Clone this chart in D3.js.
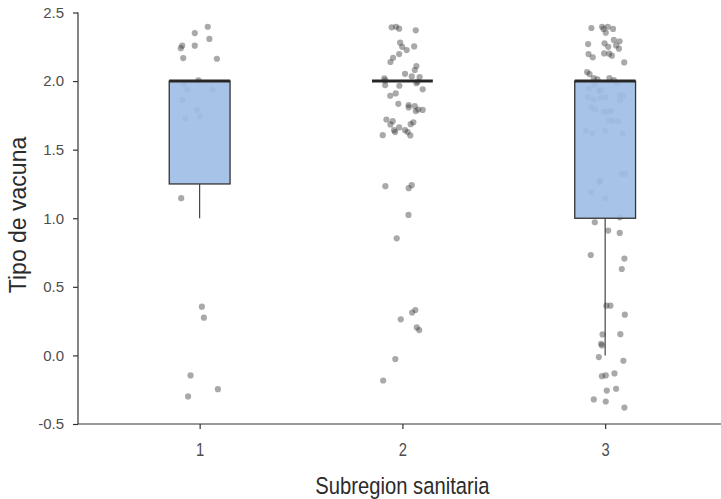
<!DOCTYPE html>
<html>
<head>
<meta charset="utf-8">
<script src="https://cdn.jsdelivr.net/npm/d3@7"></script>
<style>
  body { margin: 0; background: #fff; }
  svg text { font-family: "Liberation Sans", Arial, sans-serif; }
</style>
</head>
<body>
<div id="chart"></div>
<script>
var categories = [1, 2, 3];
var yTicks = [-0.5, 0.0, 0.5, 1.0, 1.5, 2.0, 2.5];

// jittered points: offset from category centre (in category units) and y value
var jitter1 = [0.040, -0.024, 0.048, -0.086, -0.093, -0.024, -0.081, 0.085, -0.006, -0.078, -0.060,
    0.065, -0.085, -0.012, 0.001, -0.070, -0.091, 0.011, 0.021, -0.045, 0.090, -0.057];
var values1 = [2.396, 2.35, 2.307, 2.258, 2.24, 2.258, 2.168, 2.163, 2.005, 1.978, 1.937,
    1.937, 1.864, 1.79, 1.742, 1.73, 1.146, 0.355, 0.275, -0.146, -0.246, -0.299];

var jitter2 = [-0.053, -0.031, -0.016, 0.066, -0.011, -0.001, 0.021, 0.058, -0.016, -0.046, -0.059,
    0.069, 0.061, 0.013, 0.046, 0.085, -0.089, -0.085, -0.085, -0.015, 0.069, 0.074, 0.100, -0.033,
    -0.060, -0.020, 0.031, 0.031, 0.061, 0.066, 0.078, 0.100, -0.079, -0.048, -0.059, -0.041, -0.036,
    -0.016, 0.013, 0.026, 0.041, 0.054, 0.039, -0.097, -0.084, 0.031, 0.046, 0.030, -0.028, 0.064,
    0.048, -0.008, 0.071, 0.083, -0.035, -0.095];
var values2 = [2.392, 2.396, 2.382, 2.37, 2.28, 2.25, 2.226, 2.253, 2.197, 2.17, 2.139,
    2.11, 2.08, 2.053, 2.034, 2.029, 2.02, 2.005, 1.971, 1.966, 1.985, 1.995, 1.94, 1.91,
    1.893, 1.834, 1.825, 1.808, 1.818, 1.781, 1.793, 1.79, 1.72, 1.708, 1.684, 1.642, 1.628,
    1.662, 1.642, 1.628, 1.686, 1.70, 1.604, 1.606, 1.234, 1.219, 1.241, 1.024, 0.854, 0.331,
    0.312, 0.263, 0.204, 0.185, -0.027, -0.183];

var jitter3 = [-0.068, -0.015, -0.008, 0.013, 0.039, 0.003, 0.043, 0.071, -0.084, -0.003, 0.015,
    0.054, 0.068, -0.082, -0.061, -0.005, 0.020, 0.033, 0.094, -0.089, -0.077, -0.056, -0.038,
    0.021, 0.043, -0.080, -0.053, -0.031, -0.020, 0.059, -0.085, -0.056, -0.023, 0.001, 0.074,
    0.090, 0.074, -0.069, -0.048, -0.008, 0.013, 0.030, 0.018, 0.036, 0.064, -0.095, -0.064,
    0.000, 0.085, 0.080, 0.099, -0.025, -0.028, -0.068, 0.001, 0.072, -0.051, 0.015, 0.072,
    -0.071, 0.095, 0.082, 0.006, 0.026, 0.097, -0.013, 0.075, -0.020, -0.016, -0.031, 0.090,
    0.046, -0.016, 0.003, 0.008, 0.054, -0.056, 0.003, 0.095];
var values3 = [2.387, 2.396, 2.38, 2.396, 2.38, 2.353, 2.30, 2.29, 2.27, 2.275, 2.25,
    2.26, 2.236, 2.197, 2.173, 2.202, 2.2, 2.185, 2.136, 2.066, 2.051, 2.022, 2.012,
    2.022, 2.007, 1.944, 1.973, 1.929, 1.934, 1.983, 1.883, 1.866, 1.878, 1.881, 1.898,
    1.893, 1.861, 1.81, 1.793, 1.776, 1.776, 1.783, 1.713, 1.71, 1.706, 1.637, 1.618,
    1.637, 1.618, 1.323, 1.323, 1.275, 1.265, 1.19, 1.146, 1.007, 0.971, 0.91, 0.893,
    0.732, 0.706, 0.63, 0.363, 0.363, 0.297, 0.153, 0.155, 0.085, 0.073, -0.012, -0.039,
    -0.131, -0.151, -0.146, -0.256, -0.243, -0.321, -0.336, -0.38];

var jitters = [jitter1, jitter2, jitter3];
var values = [values1, values2, values3];

var w = 721, h = 499;
var margin = { left: 78, top: 12.5, bottom: 75 };

var svg = d3.select("#chart").append("svg")
    .attr("width", w)
    .attr("height", h);

var x = d3.scaleLinear().domain([0.4, 3.6]).range([margin.left, margin.left + 3.2 * 202.75]);
var y = d3.scaleLinear().domain([-0.5, 2.5]).range([h - margin.bottom, margin.top]);

// box stats from the underlying (un-jittered) codes
var boxes = categories.map(function (c, i) {
    var v = values[i].map(function (d) { return Math.round(d); }).sort(d3.ascending);
    var q1 = d3.quantile(v, 0.25), med = d3.quantile(v, 0.5), q3 = d3.quantile(v, 0.75);
    var iqr = q3 - q1;
    var lo = d3.min(v.filter(function (d) { return d >= q1 - 1.5 * iqr; }));
    var hi = d3.max(v.filter(function (d) { return d <= q3 + 1.5 * iqr; }));
    return { cat: c, q1: q1, med: med, q3: q3, lo: lo, hi: hi };
});

var boxW = 0.3;

// whiskers
svg.append("g").selectAll("line.whisk")
    .data(boxes)
    .enter().append("line")
    .attr("x1", function (d) { return x(d.cat); })
    .attr("x2", function (d) { return x(d.cat); })
    .attr("y1", function (d) { return y(d.lo); })
    .attr("y2", function (d) { return y(d.q1); })
    .attr("stroke", "#333")
    .attr("stroke-width", 1.1);

// points
var pts = [];
categories.forEach(function (c, i) {
    values[i].forEach(function (v, j) { pts.push({ x: c + jitters[i][j], y: v }); });
});
svg.append("g").selectAll("circle")
    .data(pts)
    .enter().append("circle")
    .attr("cx", function (d) { return x(d.x); })
    .attr("cy", function (d) { return y(d.y); })
    .attr("r", 3.1)
    .attr("fill", "#333")
    .attr("fill-opacity", 0.42);

// boxes
svg.append("g").selectAll("rect")
    .data(boxes)
    .enter().append("rect")
    .attr("x", function (d) { return x(d.cat - boxW / 2); })
    .attr("width", function (d) { return x(d.cat + boxW / 2) - x(d.cat - boxW / 2); })
    .attr("y", function (d) { return y(d.q3); })
    .attr("height", function (d) { return y(d.q1) - y(d.q3); })
    .attr("fill", "#9fbfe6")
    .attr("fill-opacity", 0.92)
    .attr("stroke", "#333")
    .attr("stroke-width", 1.3);

// medians
svg.append("g").selectAll("line.med")
    .data(boxes)
    .enter().append("line")
    .attr("x1", function (d) { return x(d.cat - boxW / 2); })
    .attr("x2", function (d) { return x(d.cat + boxW / 2); })
    .attr("y1", function (d) { return y(d.med); })
    .attr("y2", function (d) { return y(d.med); })
    .attr("stroke", "#262626")
    .attr("stroke-width", 3);

// axes
var fmt = function (d) { return d3.format(".1f")(d).replace("\u2212", "-"); };
var yAxis = svg.append("g")
    .attr("transform", "translate(" + margin.left + ",0)")
    .call(d3.axisLeft(y).tickValues(yTicks).tickFormat(fmt).tickSize(5).tickPadding(9));
var xAxis = svg.append("g")
    .attr("transform", "translate(0," + (h - margin.bottom) + ")")
    .call(d3.axisBottom(x).tickValues(categories).tickFormat(d3.format("d")).tickSize(5).tickPadding(14));

[yAxis, xAxis].forEach(function (a) {
    a.select(".domain").attr("stroke", "#333").attr("stroke-width", 1.2);
    a.selectAll(".tick line").attr("stroke", "#333").attr("stroke-width", 1.2);
    a.selectAll(".tick text").attr("fill", "#4d4d4d");
});
yAxis.selectAll(".tick text").style("font-size", "15px");
xAxis.selectAll(".tick text")
    .style("font-size", "18px")
    .attr("dy", "0")
    .attr("y", 32)
    .attr("transform", "scale(0.82,1)");
yAxis.select(".domain").attr("d", "M0," + y(2.5) + "V" + y(-0.5));
xAxis.select(".domain").attr("d", "M" + margin.left + ",0H" + w);

svg.append("text")
    .attr("transform", "translate(" + x(2) + ",494) scale(0.86,1)")
    .attr("text-anchor", "middle")
    .attr("fill", "#2b2b2b")
    .style("font-size", "23.5px")
    .text("Subregion sanitaria");

svg.append("text")
    .attr("transform", "translate(26," + 215 + ") rotate(-90)")
    .attr("text-anchor", "middle")
    .attr("fill", "#2b2b2b")
    .style("font-size", "23px")
    .text("Tipo de vacuna");
</script>
</body>
</html>
